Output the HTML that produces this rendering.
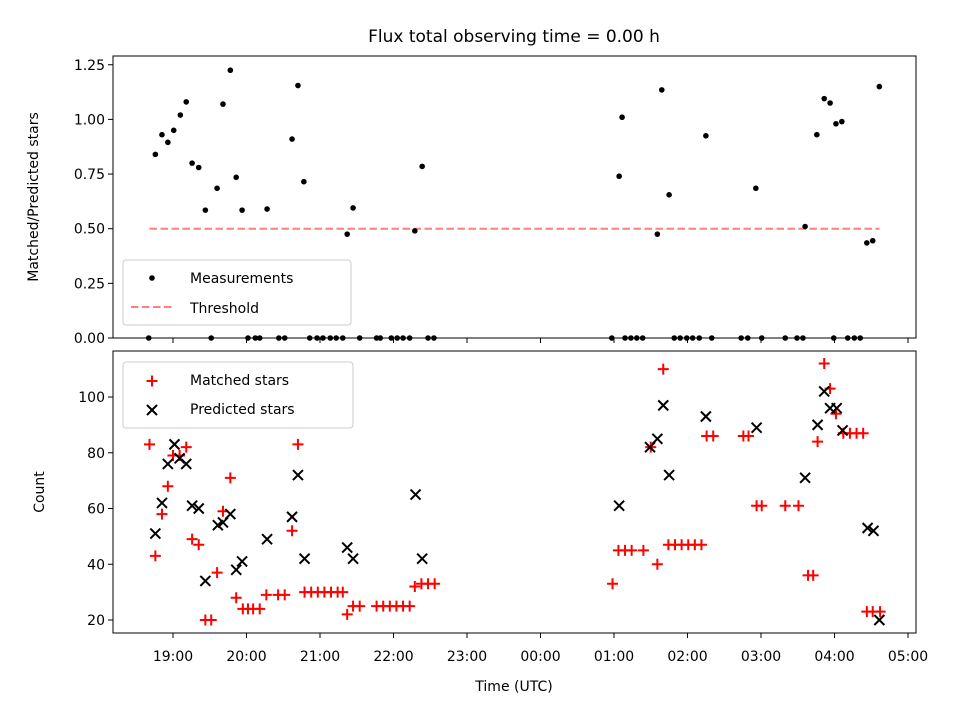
<!DOCTYPE html>
<html><head><meta charset="utf-8"><style>
body{margin:0;background:#fff}
svg{display:block;font-family:"DejaVu Sans","Liberation Sans",sans-serif}
</style></head><body>
<svg id="chart" width="960" height="720" viewBox="0 0 960 720" xmlns="http://www.w3.org/2000/svg">
<rect width="960" height="720" fill="#fff"/>
<text x="514" y="42" font-size="17" text-anchor="middle">Flux total observing time = 0.00 h</text>
<g id="topPanel"></g><g id="botPanel"></g>
<text transform="translate(38,197) rotate(-90)" font-size="14" text-anchor="middle">Matched/Predicted stars</text>
<text transform="translate(44,492) rotate(-90)" font-size="14" text-anchor="middle">Count</text>
<text x="514" y="691" font-size="14" text-anchor="middle">Time (UTC)</text>
</svg>
<script>
// times are decimal hours since 00:00 of first night (values > 24 are after midnight)
const ratioTimes=[18.76,18.85,18.93,19.01,19.10,19.18,19.26,19.35,19.44,19.60,19.68,19.78,19.86,19.94,20.28,20.62,20.70,20.78,21.37,21.45,22.29,22.39,25.07,25.11,25.59,25.65,25.75,26.25,26.93,27.60,27.76,27.86,27.94,28.02,28.10,28.44,28.52,28.61];
const ratioValues=[0.84,0.93,0.895,0.95,1.02,1.08,0.80,0.78,0.585,0.685,1.07,1.225,0.735,0.585,0.59,0.91,1.155,0.715,0.475,0.595,0.49,0.785,0.74,1.01,0.475,1.135,0.655,0.925,0.685,0.51,0.93,1.095,1.075,0.98,0.99,0.435,0.445,1.15];
const zeroTimes=[18.67,19.52,20.02,20.12,20.18,20.44,20.52,20.86,20.96,21.04,21.14,21.22,21.31,21.54,21.77,21.82,21.97,22.05,22.13,22.22,22.47,22.55,24.97,25.15,25.23,25.31,25.39,25.82,25.90,25.99,26.07,26.16,26.33,26.73,26.82,27.01,27.33,27.49,27.57,27.99,28.18,28.27,28.35];
const thresholdValue=0.5;
const thresholdRange=[18.68,28.61];
const matchedTimes=[18.68,18.76,18.85,18.93,19.00,19.09,19.18,19.26,19.35,19.44,19.52,19.60,19.68,19.78,19.86,19.95,20.02,20.09,20.18,20.27,20.43,20.52,20.62,20.70,20.79,20.88,20.97,21.06,21.15,21.24,21.31,21.37,21.45,21.54,21.77,21.86,21.95,22.04,22.13,22.22,22.29,22.38,22.47,22.56,
24.98,25.06,25.15,25.24,25.40,25.50,25.59,25.67,25.74,25.83,25.92,26.01,26.10,26.19,26.26,26.35,26.76,26.83,26.94,27.01,27.33,27.51,27.64,27.71,27.77,27.86,27.94,28.02,28.12,28.21,28.30,28.39,28.44,28.52,28.62];
const matchedCounts=[83,43,58,68,79,79,82,49,47,20,20,37,59,71,28,24,24,24,24,29,29,29,52,83,30,30,30,30,30,30,30,22,25,25,25,25,25,25,25,25,32,33,33,33,
33,45,45,45,45,82,40,110,47,47,47,47,47,47,86,86,86,86,61,61,61,61,36,36,84,112,103,94,87,87,87,87,23,23,23];
const predictedTimes=[18.76,18.85,18.93,19.02,19.09,19.18,19.26,19.35,19.44,19.61,19.68,19.78,19.86,19.94,20.28,20.62,20.70,20.79,21.37,21.45,22.30,22.39,25.07,25.49,25.59,25.67,25.75,26.25,26.94,27.60,27.77,27.86,27.94,28.03,28.11,28.45,28.53,28.61];
const predictedCounts=[51,62,76,83,78,76,61,60,34,54,55,58,38,41,49,57,72,42,46,42,65,42,61,82,85,97,72,93,89,71,90,102,96,96,88,53,52,20];
const xTickHours=[19,20,21,22,23,24,25,26,27,28,29];
const xTickLabels=["19:00","20:00","21:00","22:00","23:00","00:00","01:00","02:00","03:00","04:00","05:00"];
const topTicks=[0,0.25,0.5,0.75,1.0,1.25];
const topTickLabels=["0.00","0.25","0.50","0.75","1.00","1.25"];
const botTicks=[20,40,60,80,100];
const botTickLabels=["20","40","60","80","100"];

const NS="http://www.w3.org/2000/svg";
const L=113,R=916,T1=56,B1=338,T2=351,B2=633;
const xs=h=>173+(h-19)*73.5;
const yTop=v=>338-v*218.6;
const yBot=c=>620-(c-20)*2.7875;
function mk(parent,tag,attrs){const e=document.createElementNS(NS,tag);for(const k in attrs)e.setAttribute(k,attrs[k]);parent.appendChild(e);return e;}
const topG=document.getElementById('topPanel'),botG=document.getElementById('botPanel');

function axes(g,T,B,ticks,labels,yf,showX){
  for(let i=0;i<xTickHours.length;i++){
    const xx=xs(xTickHours[i]);
    const tk=mk(g,'line',{x1:xx,x2:xx,y1:B,y2:B+5,stroke:'#000','stroke-width':1});
    
    
    if(showX){const tl=mk(g,'text',{x:xx,y:B+28,'font-size':14,'text-anchor':'middle'});tl.textContent=xTickLabels[i];
      
      }
  }
  for(let i=0;i<ticks.length;i++){
    const yy=yf(ticks[i]);
    const tk=mk(g,'line',{x1:L-5,x2:L,y1:yy,y2:yy,stroke:'#000','stroke-width':1});
    
    
    const tl=mk(g,'text',{x:L-8,y:yy+5,'font-size':14,'text-anchor':'end'});tl.textContent=labels[i];
    
    
  }
}
function plus(g,cx,cy){return mk(g,'path',{d:`M${cx-5.5} ${cy}H${cx+5.5}M${cx} ${cy-5.5}V${cy+5.5}`,stroke:'#f00','stroke-width':2});}
function cross(g,cx,cy){return mk(g,'path',{d:`M${cx-5} ${cy-5}L${cx+5} ${cy+5}M${cx-5} ${cy+5}L${cx+5} ${cy-5}`,stroke:'#000','stroke-width':2});}

// top panel
axes(topG,T1,B1,topTicks,topTickLabels,yTop,false);
const th=mk(topG,'line',{x1:xs(thresholdRange[0]),x2:xs(thresholdRange[1]),y1:yTop(thresholdValue),y2:yTop(thresholdValue),stroke:'#ff7f7f','stroke-width':2,'stroke-dasharray':'7.5,3.5'});


ratioTimes.forEach((h,i)=>{const c=mk(topG,'circle',{cx:xs(h),cy:yTop(ratioValues[i]),r:2.8,fill:'#000'});
  
  });
zeroTimes.forEach(h=>{const c=mk(topG,'circle',{cx:xs(h),cy:yTop(0),r:2.8,fill:'#000'});
  
  });
const f1=mk(topG,'rect',{x:L,y:T1,width:R-L,height:B1-T1,fill:'none',stroke:'#000','stroke-width':1});


const lg1=mk(topG,'g',{});


mk(lg1,'rect',{x:123,y:260,width:228,height:65,rx:3,fill:'#fff','fill-opacity':0.8,stroke:'#ccc'});
mk(lg1,'circle',{cx:152,cy:278,r:2.8,fill:'#000'});
let tx=mk(lg1,'text',{x:190,y:283,'font-size':14});tx.textContent='Measurements';
mk(lg1,'line',{x1:131,x2:173,y1:307,y2:307,stroke:'#ff7f7f','stroke-width':2,'stroke-dasharray':'7.5,3.5'});
tx=mk(lg1,'text',{x:190,y:313,'font-size':14});tx.textContent='Threshold';

// bottom panel
axes(botG,T2,B2,botTicks,botTickLabels,yBot,true);
matchedTimes.forEach((h,i)=>{const p=plus(botG,xs(h),yBot(matchedCounts[i]));
  
  });
predictedTimes.forEach((h,i)=>{const p=cross(botG,xs(h),yBot(predictedCounts[i]));
  
  });
const f2=mk(botG,'rect',{x:L,y:T2,width:R-L,height:B2-T2,fill:'none',stroke:'#000','stroke-width':1});


const lg2=mk(botG,'g',{});


mk(lg2,'rect',{x:123,y:362,width:230,height:66,rx:3,fill:'#fff','fill-opacity':0.8,stroke:'#ccc'});
plus(lg2,152,381);
tx=mk(lg2,'text',{x:190,y:385,'font-size':14});tx.textContent='Matched stars';
cross(lg2,152,410);
tx=mk(lg2,'text',{x:190,y:414,'font-size':14});tx.textContent='Predicted stars';
</script>
</body></html>
